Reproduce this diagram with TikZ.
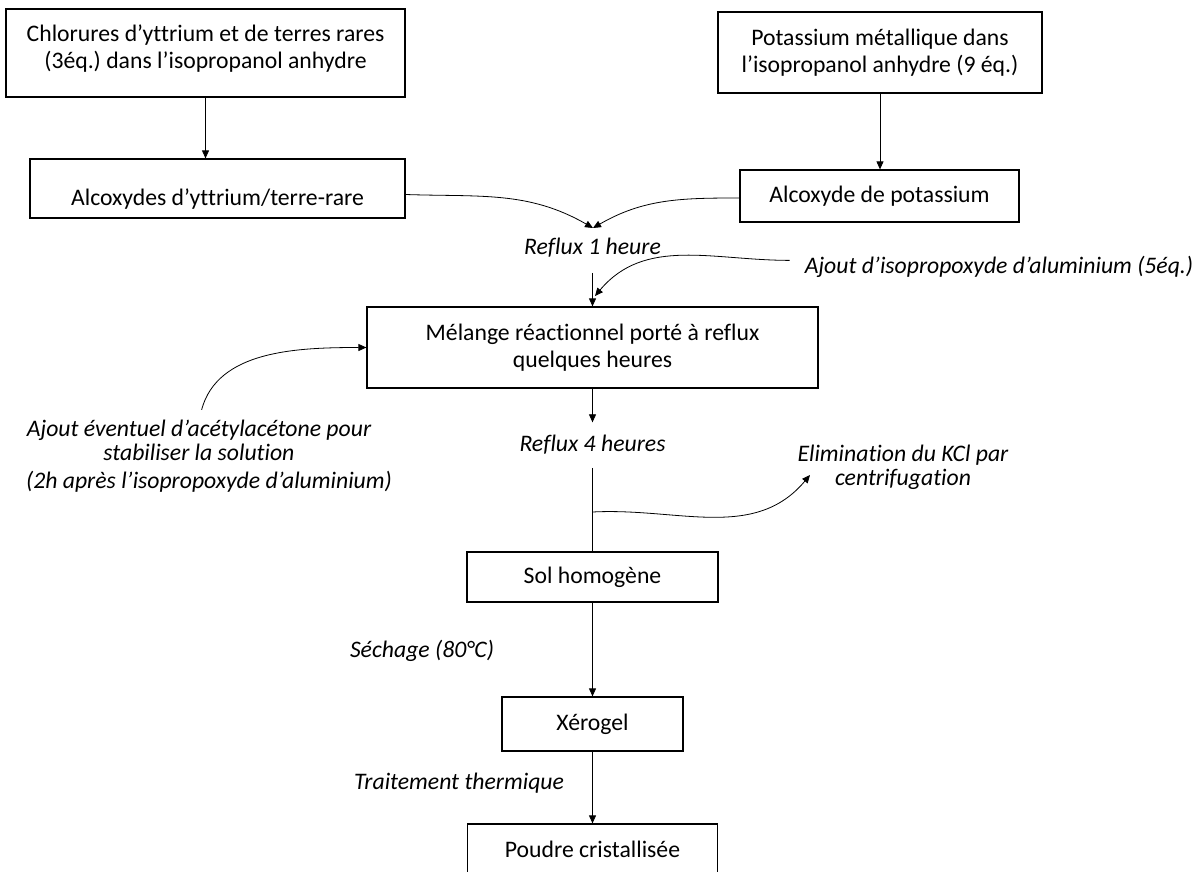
\documentclass[tikz,border=0pt]{standalone}
\usepackage{fontspec}
\setmainfont{Carlito}[Ligatures=NoCommon]
\usepackage{tikz}
\usetikzlibrary{arrows.meta,positioning}
\frenchspacing

\begin{document}
\begin{tikzpicture}[
  x=1pt, y=1pt,
  box/.style={draw, line width=1.2pt, align=center, inner sep=0pt,
    font=\fontsize{23.7}{27}\selectfont},
  lbl/.style={inner sep=0pt, align=center, font=\fontsize{23.7}{24}\selectfont\itshape},
  arr/.style={-{Triangle[length=8pt,width=7pt]}, line width=0.8pt},
  conn/.style={line width=0.8pt}
]
  \useasboundingbox (0,0) rectangle (1199,-872);
  \node[box, minimum width=399pt, text height=60pt, text depth=28pt] (chlor) at (205.5,-53)
    {Chlorures d’yttrium et de terres rares\\(3éq.) dans l’isopropanol anhydre};
  \node[box, minimum width=375pt, text height=46pt, text depth=13pt] (alcY) at (217.5,-188.5)
    {Alcoxydes d’yttrium/terre-rare};
  \node[box, minimum width=324pt, minimum height=81pt] (potK) at (880,-52.5)
    {Potassium métallique dans\\l’isopropanol anhydre (9 éq.)};
  \node[box, minimum width=279pt, minimum height=52pt] (alcK) at (879.5,-196)
    {Alcoxyde de potassium};
  \node[box, minimum width=451pt, minimum height=81pt] (melange) at (592.5,-347.5)
    {Mélange réactionnel porté à reflux\\quelques heures};
  \node[box, minimum width=251pt, minimum height=50pt] (sol) at (592.5,-577) {Sol homogène};
  \node[box, minimum width=181pt, minimum height=54pt] (xerogel) at (592.5,-724) {Xérogel};
  \node[box, minimum width=250pt, minimum height=50pt] (poudre) at (592.5,-849) {Poudre cristallisée};

  \node[lbl, anchor=base] (reflux1) at (592.5,-254) {Reflux 1 heure};
  \node[lbl, anchor=base] (ajoutAl) at (999,-273) {Ajout d’isopropoxyde d’aluminium (5éq.)};
  \node[lbl] (acac) at (199,-440) {Ajout éventuel d’acétylacétone pour\\stabiliser la solution};
  \node[lbl, anchor=base] (note) at (209,-488) {(2h après l’isopropoxyde d’aluminium)};
  \node[lbl, anchor=base] (reflux4) at (592.5,-451) {Reflux 4 heures};
  \node[lbl] (elim) at (903,-467) {Elimination du KCl par\\centrifugation};
  \node[lbl, anchor=base] (sechage) at (422,-657) {Séchage (80°C)};
  \node[lbl, anchor=base] (traitement) at (459,-789) {Traitement thermique};

  \coordinate (merge) at (593,-228);
  \coordinate (tipAl) at (595,-296);
  \coordinate (split) at (592.5,-512);
  \coordinate (tipKCl) at (810,-475);

  \draw[arr] (chlor.south) -- (chlor.south |- alcY.north);
  \draw[arr] (potK.south) -- (potK.south |- alcK.north);
  \draw[arr] ([yshift=-6pt]alcY.east) to[out=-2, in=150] (merge);
  \draw[arr] ([yshift=-2pt]alcK.west) to[out=180, in=30] (merge);
  \draw[arr, shorten <=16pt] (reflux1.south) -- (melange.north);
  \draw[arr] ([xshift=-15pt, yshift=6pt]ajoutAl.west) to[out=180, in=50] (tipAl);
  \draw[arr, shorten <=10pt] (acac.north) to[out=75, in=180] (melange.west);
  \draw[arr, shorten >=12pt] (melange.south) -- (reflux4.north);
  \draw[conn, shorten <=14pt] (reflux4.south) -- (sol.north);
  \draw[arr] (split) to[out=3, in=230] (tipKCl);
  \draw[arr] (sol.south) -- (xerogel.north);
  \draw[arr] (xerogel.south) -- (poudre.north);
\end{tikzpicture}
\end{document}
